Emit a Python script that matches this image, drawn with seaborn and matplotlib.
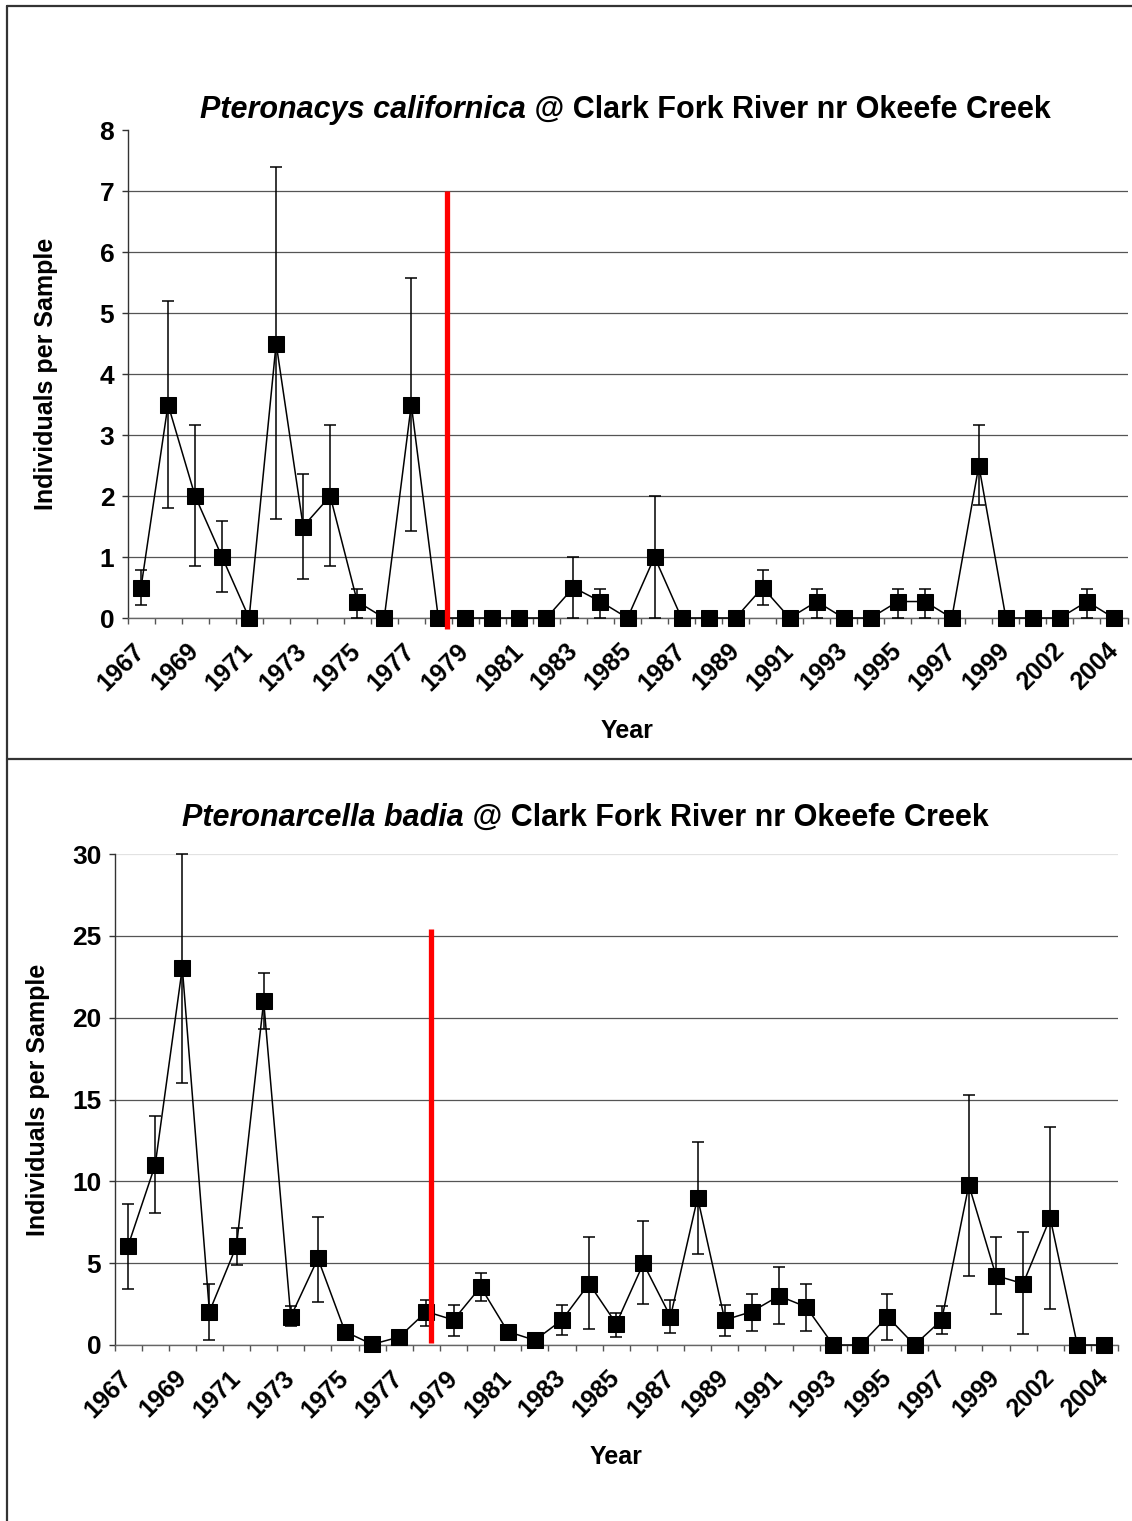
import numpy as np
import pandas as pd
import matplotlib
matplotlib.use("Agg")
import matplotlib.pyplot as plt
from matplotlib.lines import Line2D
import seaborn as sns

# ---------------- data ----------------
years = [str(y) for y in range(1967, 2001)] + ["2002", "2003", "2004"]
tick_years = years[::2]

cal_mean = [0.5, 3.5, 2.0, 1.0, 0, 4.5, 1.5, 2.0, 0.27, 0, 3.5, 0, 0, 0, 0, 0,
            0.5, 0.27, 0, 1.0, 0, 0, 0, 0.5, 0, 0.27, 0, 0, 0.27, 0.27, 0, 2.5,
            0, 0, 0, 0.27, 0]
cal_upper = [0.79, 5.2, 3.16, 1.59, 0, 7.39, 2.36, 3.16, 0.48, 0, 5.57, 0, 0, 0, 0, 0,
             1.0, 0.48, 0, 2.0, 0, 0, 0, 0.79, 0, 0.48, 0, 0, 0.48, 0.48, 0, 3.16,
             0, 0, 0, 0.48, 0]
cal_lower = [0.21, 1.8, 0.85, 0.42, 0, 1.62, 0.64, 0.85, 0, 0, 1.43, 0, 0, 0, 0, 0,
             0, 0, 0, 0, 0, 0, 0, 0.21, 0, 0, 0, 0, 0, 0, 0, 1.85,
             0, 0, 0, 0, 0]

bad_mean = [6.06, 11.0, 23.05, 2.04, 6.06, 21.0, 1.73, 5.29, 0.82, 0.04,
            0.49, 2.04, 1.53, 3.55, 0.82, 0.29, 1.53, 3.75, 1.3, 4.98,
            1.73, 9.0, 1.53, 2.04, 3.0, 2.33, 0, 0, 1.73, 0,
            1.53, 9.78, 4.24, 3.75, 7.76, 0, 0]
bad_upper = [8.61, 14.0, 30.0, 3.71, 7.16, 22.7, 2.39, 7.84, 0.95, 0.04,
             0.6, 2.78, 2.47, 4.39, 0.95, 0.29, 2.45, 6.57, 1.98, 7.55,
             2.76, 12.4, 2.47, 3.14, 4.78, 3.71, 0, 0, 3.14, 0,
             2.39, 15.3, 6.57, 6.9, 13.3, 0, 0]
bad_lower = [3.45, 8.04, 16.0, 0.29, 4.88, 19.3, 1.14, 2.65, 0.69, 0.04,
             0.38, 1.14, 0.57, 2.67, 0.69, 0.29, 0.6, 0.96, 0.49, 2.49,
             0.76, 5.55, 0.57, 0.86, 1.27, 0.86, 0, 0, 0.29, 0,
             0.69, 4.2, 1.92, 0.69, 2.2, 0, 0]

# red reference line: (category position, y start, y end)
red_top = [11.33, -0.18, 7.0]
red_bottom = [11.18, 0.1, 25.4]

title_top = ("Pteronacys californica", " @ Clark Fork River nr Okeefe Creek")
title_bottom = ("Pteronarcella badia", " @ Clark Fork River nr Okeefe Creek")
ylabel = "Individuals per Sample"
xlabel = "Year"

# ---------------- style ----------------
sns.set_style("white")
plt.rcParams["font.family"] = ["Liberation Sans", "DejaVu Sans"]
plt.rcParams["font.weight"] = "bold"
for k in ["text.color", "axes.labelcolor", "xtick.color", "ytick.color"]:
    plt.rcParams[k] = "black"

W, H = 1132, 1521
fig = plt.figure(figsize=(W / 100, H / 100), dpi=100)
fig.patch.set_facecolor("white")


def fbox(l, r, t, b):
    return [l / W, 1 - b / H, (r - l) / W, (b - t) / H]


ax1 = fig.add_axes(fbox(127.5, 1127.5, 130, 618))
ax2 = fig.add_axes(fbox(114.5, 1118, 854, 1345))


def panel(ax, mean, lo, hi, ymax, ystep, red, top_grid, ylab_x, xlab_y):
    mean = np.array(mean, float)
    lo = np.array(lo, float)
    hi = np.array(hi, float)
    x = np.arange(len(years))
    df = pd.DataFrame({"pos": x, "val": mean})
    ax.errorbar(x, mean, yerr=[mean - lo, hi - mean], fmt="none", ecolor="black",
                elinewidth=1.1, capsize=4.3, capthick=1.1, zorder=3, clip_on=False)
    sns.lineplot(data=df, x="pos", y="val", ax=ax, color="black", linewidth=1.1,
                 marker="s", markersize=11, markeredgecolor="black",
                 errorbar=None, zorder=4, clip_on=False)
    ax.plot([red[0], red[0]], [red[1], red[2]], color="#ff0000", lw=3.8,
            zorder=5, clip_on=False, solid_capstyle="butt")
    ax.set_xlim(-0.5, len(years) - 0.5)
    ax.set_ylim(0, ymax)
    yt = np.arange(0, ymax + 0.001, ystep)
    ax.set_yticks(yt)
    ax.set_yticklabels([f"{v:g}" for v in yt], fontsize=19, fontweight="bold")
    ax.set_xticks(x[::2])
    ax.set_xticklabels(tick_years, rotation=45, ha="right", va="center",
                       rotation_mode="anchor", fontsize=18, fontweight="bold")
    ax.set_xticks(np.arange(-0.5, len(years)), minor=True)
    ax.tick_params(axis="x", which="major", length=0, pad=21)
    ax.tick_params(axis="x", which="minor", length=4.5, width=1, color="#555555",
                   direction="out", bottom=True)
    ax.tick_params(axis="y", which="major", length=4.5, width=1, color="#333333",
                   direction="out", left=True, pad=5)
    for s in ["top", "right"]:
        ax.spines[s].set_visible(False)
    ax.spines["left"].set_color("#333333")
    ax.spines["bottom"].set_color("#666666")
    ax.spines["left"].set_linewidth(1)
    ax.spines["bottom"].set_linewidth(1)
    ax.set_axisbelow(True)
    ax.yaxis.grid(True, color="#555555", lw=0.9)
    ax.xaxis.grid(False)
    ax.get_ygridlines()[-1].set_color(top_grid)
    ax.set_ylabel(ylabel, fontsize=18, fontweight="bold")
    ax.yaxis.label.set_va("center")
    ax.yaxis.set_label_coords(ylab_x, 0.5)
    ax.set_xlabel(xlabel, fontsize=18, fontweight="bold")
    ax.xaxis.label.set_va("center")
    ax.xaxis.set_label_coords(0.5, xlab_y)


panel(ax1, cal_mean, cal_lower, cal_upper, 8, 1, red_top, "white",
      (46 - 127.5) / 1000, -(731 - 618) / 488)
panel(ax2, bad_mean, bad_lower, bad_upper, 30, 5, red_bottom, "#e2e2e2",
      (38 - 114.5) / 1003.5, -(1457 - 1345) / 491)

renderer = fig.canvas.get_renderer()


def two_part_title(parts, cx, cy):
    t1 = fig.text(0, 1 - cy / H, parts[0], fontsize=22, fontweight="bold",
                  fontstyle="italic", va="center", ha="left")
    t2 = fig.text(0, 1 - cy / H, parts[1], fontsize=22, fontweight="bold",
                  va="center", ha="left")
    w1 = t1.get_window_extent(renderer).width
    w2 = t2.get_window_extent(renderer).width
    x0 = cx - (w1 + w2) / 2
    t1.set_x(x0 / W)
    t2.set_x((x0 + w1) / W)


two_part_title(title_top, 625, 110)
two_part_title(title_bottom, 585, 818)

# frame lines of the chart boxes
bc = "#333333"
fig.add_artist(Line2D([7 / W, 1], [1 - 6 / H, 1 - 6 / H], transform=fig.transFigure, color=bc, lw=1.6))
fig.add_artist(Line2D([7 / W, 7 / W], [1 - 6 / H, 0], transform=fig.transFigure, color=bc, lw=1.6))
fig.add_artist(Line2D([7 / W, 1], [1 - 759 / H, 1 - 759 / H], transform=fig.transFigure, color=bc, lw=1.6))

fig.savefig("out.png", dpi=100, facecolor="white")
